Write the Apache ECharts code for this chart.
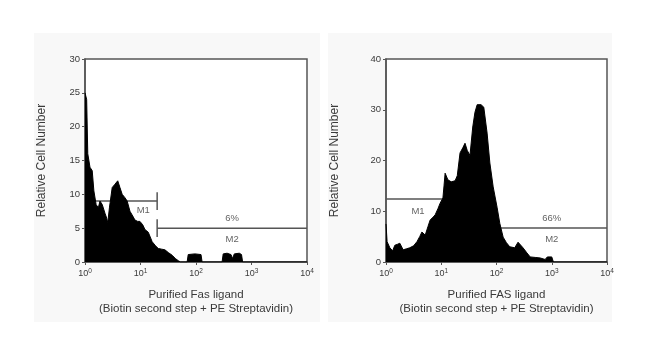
<!DOCTYPE html>
<html>
<head>
<meta charset="utf-8">
<script src="https://cdn.jsdelivr.net/npm/echarts@6/dist/echarts.min.js"></script>
<style>html,body{margin:0;padding:0;background:#fff;}#c{width:650px;height:357px;}</style>
</head>
<body>
<div id="c"></div>
<script>
// x values are log10 of fluorescence intensity (decades)
const leftX = [0, 0.03, 0.05, 0.09, 0.13, 0.16, 0.2, 0.24, 0.27, 0.31, 0.36, 0.39, 0.41, 0.44, 0.49, 0.54, 0.59, 0.63, 0.67, 0.72, 0.76, 0.81, 0.86, 0.9, 0.95, 0.99, 1.04, 1.08, 1.14, 1.21, 1.27, 1.32, 1.38, 1.44, 1.5, 1.57, 1.63, 1.68, 1.72, 1.84, 1.86, 1.98, 2.09, 2.11, 2.47, 2.49, 2.56, 2.63, 2.66, 2.69, 2.78, 2.82, 2.84, 4];
const leftY = [25, 24, 16, 14, 13.5, 10.5, 8.5, 8, 9, 8.5, 7.2, 6.5, 5.8, 8, 11, 11.5, 12, 11, 10, 9.5, 9, 7.5, 6.8, 6.2, 6, 6, 5.5, 4.8, 4.4, 3, 2.4, 2, 1.9, 1.8, 1.4, 1, 0.5, 0.2, 0, 0, 1.1, 1.2, 1.1, 0, 0, 1.2, 1.3, 1.1, 0.5, 1.2, 1.3, 1.1, 0, 0];
const rightX = [0, 0.02, 0.07, 0.12, 0.16, 0.21, 0.25, 0.31, 0.37, 0.43, 0.5, 0.56, 0.61, 0.65, 0.71, 0.76, 0.8, 0.85, 0.89, 0.94, 0.98, 1.03, 1.05, 1.07, 1.12, 1.18, 1.25, 1.29, 1.34, 1.39, 1.43, 1.47, 1.52, 1.57, 1.61, 1.65, 1.72, 1.77, 1.83, 1.88, 1.94, 2.01, 2.06, 2.12, 2.18, 2.24, 2.33, 2.39, 2.48, 2.55, 2.61, 2.7, 2.79, 2.88, 2.92, 3.0, 3.03, 4];
const rightY = [7.5, 4, 2.8, 2.2, 3.3, 3.5, 3.7, 2.4, 2.6, 2.8, 3.2, 4, 5, 5.9, 5.3, 7, 8.3, 8.8, 9.3, 10.5, 11.6, 12.6, 15, 17.5, 16.2, 15.8, 16, 17, 21.5, 22.5, 23.4, 22, 21, 26.6, 29.5, 31, 31, 30.5, 25.4, 19.5, 14.8, 10.8, 7.6, 4.9, 3.8, 3, 2.8, 3.9, 2.8, 1.8, 1, 0.9, 0.8, 0.5, 1, 1, 0, 0];

// gates: [name, start, end, level, tickAt]
const leftGates = [['M1', 0, 1.3, 9, 'end'], ['M2', 1.3, 4, 5, 'start']];
const rightGates = [['M1', 0, 1.6, 12.4, 'end'], ['M2', 1.6, 4, 6.7, 'start']];
// gate labels: [text, x, y]
const leftLabels = [['M1', 1.05, 7.6], ['6%', 2.65, 6.5], ['M2', 2.65, 3.4]];
const rightLabels = [['M1', 0.58, 9.9], ['66%', 3.0, 8.5], ['M2', 3.0, 4.5]];

const xTicks = [0, 1, 2, 3, 4];
const leftYMax = 30, leftYStep = 5;
const rightYMax = 40, rightYStep = 10;
const xTitles = ['Purified Fas ligand\n(Biotin second step + PE Streptavidin)',
                 'Purified FAS ligand\n(Biotin second step + PE Streptavidin)'];
const yTitle = 'Relative Cell Number';

const TXT = '#3a3a3a';
const BOX = '#555';
const FONT = 'Liberation Sans, Arial, sans-serif';

function zip(xs, ys) { return xs.map((x, i) => [x, ys[i]]); }

function xAxisDef(gi, title) {
  return {
    type: 'value', gridIndex: gi, min: xTicks[0], max: xTicks[xTicks.length - 1], interval: 1,
    axisLine: { show: true, onZero: false, lineStyle: { color: BOX, width: 1.5 } },
    axisTick: { show: true, length: 3, lineStyle: { color: BOX } },
    splitLine: { show: false },
    axisLabel: {
      margin: 6, color: TXT,
      formatter: v => '{b|10}{s|' + v + '}',
      rich: {
        b: { fontSize: 9, fontFamily: FONT, color: TXT, lineHeight: 12 },
        s: { fontSize: 6.5, fontFamily: FONT, color: TXT, verticalAlign: 'top', lineHeight: 8 }
      }
    },
    name: title, nameLocation: 'middle', nameGap: 26,
    nameTextStyle: { fontSize: 11.5, color: TXT, fontFamily: FONT, lineHeight: 14, verticalAlign: 'top' }
  };
}
function yAxisDef(gi, max, step, gap) {
  return {
    type: 'value', gridIndex: gi, min: 0, max: max, interval: step,
    axisLine: { show: true, lineStyle: { color: BOX, width: 1.5 } },
    axisTick: { show: true, length: 3, lineStyle: { color: BOX } },
    splitLine: { show: false },
    axisLabel: { margin: 5, fontSize: 9.5, color: TXT, fontFamily: FONT },
    name: yTitle, nameLocation: 'middle', nameGap: gap,
    nameTextStyle: { fontSize: 12, color: TXT, fontFamily: FONT }
  };
}

function histSeries(gi, xs, ys) {
  return {
    type: 'line', xAxisIndex: gi, yAxisIndex: gi, data: zip(xs, ys),
    showSymbol: false, symbol: 'none', smooth: false, z: 3,
    lineStyle: { color: '#000', width: 1 },
    areaStyle: { color: '#000', opacity: 1 },
    silent: true
  };
}
function gateSeries(gi, gates, half) {
  const out = [];
  gates.forEach(g => {
    const [, s, e, lvl, at] = g;
    const tx = at === 'end' ? e : s;
    const style = { type: 'line', xAxisIndex: gi, yAxisIndex: gi, showSymbol: false, symbol: 'none', z: 2,
      lineStyle: { color: BOX, width: 1.5 }, silent: true };
    out.push(Object.assign({}, style, { data: [[s, lvl], [e, lvl]] }));
    out.push(Object.assign({}, style, { data: [[tx, lvl - half], [tx, lvl + half]] }));
  });
  return out;
}
function labelSeries(gi, labels) {
  return {
    type: 'scatter', xAxisIndex: gi, yAxisIndex: gi, symbolSize: 0, z: 4, silent: true,
    data: labels.map(l => ({ name: l[0], value: [l[1], l[2]] })),
    label: { show: true, position: 'inside', formatter: p => p.name, fontSize: 9.5, color: TXT, fontFamily: FONT }
  };
}

const chart = echarts.init(document.getElementById('c'), null, { renderer: 'canvas' });
chart.setOption({
  animation: false,
  backgroundColor: '#fff',
  graphic: [
    { type: 'rect', z: -10, shape: { x: 34, y: 33, width: 286, height: 289 }, style: { fill: '#f8f8f8' } },
    { type: 'rect', z: -10, shape: { x: 328, y: 33, width: 284, height: 289 }, style: { fill: '#f8f8f8' } }
  ],
  grid: [
    { left: 85, top: 59, width: 222, height: 203, show: true, backgroundColor: '#fff', borderColor: BOX, borderWidth: 1.5 },
    { left: 386, top: 59, width: 221, height: 203, show: true, backgroundColor: '#fff', borderColor: BOX, borderWidth: 1.5 }
  ],
  xAxis: [xAxisDef(0, xTitles[0]), xAxisDef(1, xTitles[1])],
  yAxis: [yAxisDef(0, leftYMax, leftYStep, 37), yAxisDef(1, rightYMax, rightYStep, 45)],
  series: [
    ...gateSeries(0, leftGates, 1.3),
    ...gateSeries(1, rightGates, 1.8),
    histSeries(0, leftX, leftY),
    histSeries(1, rightX, rightY),
    labelSeries(0, leftLabels),
    labelSeries(1, rightLabels)
  ]
});
</script>
</body>
</html>
